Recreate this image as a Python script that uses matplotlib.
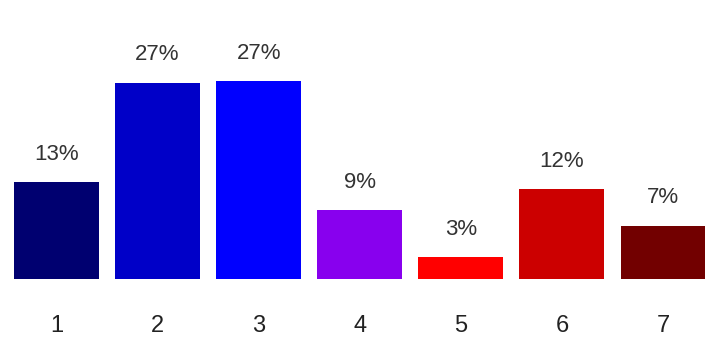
import matplotlib.pyplot as plt

categories = ['1', '2', '3', '4', '5', '6', '7']
values = [13.3, 26.9, 27.1, 9.4, 3.0, 12.3, 7.3]
labels = ['13%', '27%', '27%', '9%', '3%', '12%', '7%']
colors = ['#000070', '#0000c8', '#0000ff', '#8800ee', '#ff0000', '#cc0000', '#720000']

plt.rcParams['font.family'] = ['Liberation Sans', 'DejaVu Sans']

fig = plt.figure(figsize=(7.2, 3.4), dpi=100)
ax = fig.add_axes([0, 61 / 340, 1, 279 / 340])

x = range(1, len(categories) + 1)
bars = ax.bar(x, values, width=0.84, color=colors)

for b, lab in zip(bars, labels):
    ax.annotate(lab, (b.get_x() + b.get_width() / 2, b.get_height()),
                xytext=(0, 20), textcoords='offset points',
                ha='center', va='center', fontsize=16, color='#333333')

ax.set_xlim(0.441, 7.564)
ax.set_ylim(0, 38.2)
ax.set_xticks(list(x))
ax.set_xticklabels(categories, fontsize=17, color='#222222')
ax.tick_params(axis='x', length=0, pad=26)
ax.set_yticks([])
for s in ax.spines.values():
    s.set_visible(False)

fig.savefig('out.png', dpi=100)
